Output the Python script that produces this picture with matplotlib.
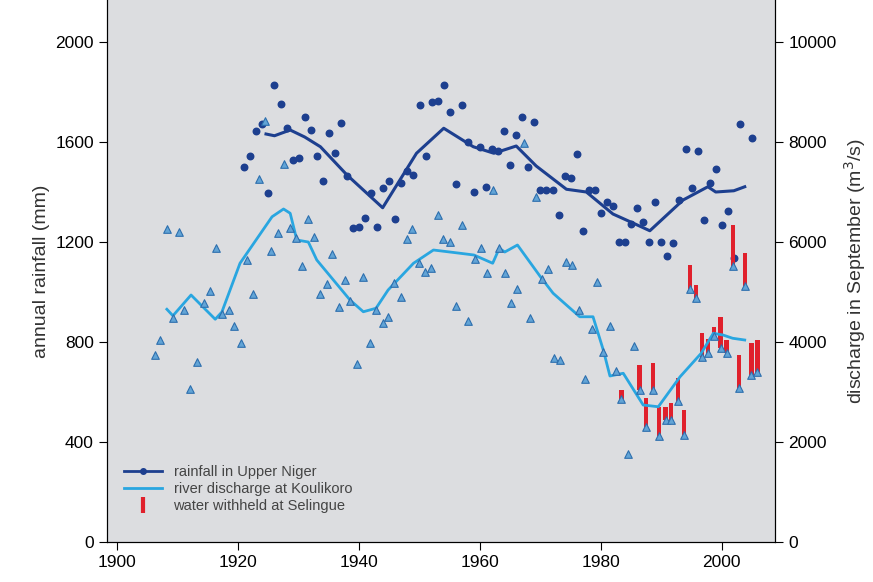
import matplotlib
matplotlib.use("Agg")
import matplotlib.pyplot as plt
from matplotlib.lines import Line2D

plt.rcParams['font.family'] = ['Liberation Sans', 'DejaVu Sans']

# rainfall dots (mm)
rain_years = [1921,1922,1923,1924,1925,1926,1927,1928,1929,1930,1931,1932,1933,1934,1935,1936,1937,1938,1939,1940,
              1941,1942,1943,1944,1945,1946,1947,1948,1949,1950,1951,1952,1953,1954,1955,1956,1957,1958,1959,1960,
              1961,1962,1963,1964,1965,1966,1967,1968,1969,1970,1971,1972,1973,1974,1975,1976,1977,1978,1979,1980,
              1981,1982,1983,1984,1985,1986,1987,1988,1989,1990,1991,1992,1993,1994,1995,1996,1997,1998,1999,2000,
              2001,2002,2003,2005]
rain_vals = [1501,1544,1644,1672,1397,1828,1753,1656,1528,1536,1701,1648,1544,1444,1637,1556,1676,1465,1256,1261,
             1297,1395,1261,1417,1444,1291,1437,1484,1469,1748,1544,1760,1763,1828,1719,1431,1748,1599,1399,1581,
             1420,1571,1565,1644,1507,1627,1701,1501,1679,1409,1409,1409,1309,1465,1456,1553,1245,1409,1409,1315,
             1359,1345,1199,1199,1272,1337,1280,1199,1360,1199,1145,1195,1368,1573,1416,1564,1287,1437,1491,1268,
             1324,1135,1672,1617]
# rainfall running mean
rain_mean_years = [1924.6,1926,1928.6,1931,1933.6,1938,1943.9,1949.5,1954,1958.9,1962.3,1966,1969.3,1974.3,
                   1977.6,1982,1985.4,1988.1,1993.6,1997.7,1999,2002,2003.8]
rain_mean_vals = [1632,1625,1648,1620,1581,1468,1337,1555,1655,1581,1555,1584,1504,1411,1400,1312,1275,1245,
                  1368,1421,1400,1405,1421]

# September discharge (m3/s)
dis_years = [1906.2,1907.1,1908.2,1909.2,1910.2,1911.1,1912.1,1913.2,1914.3,1915.4,1916.3,1917.3,1918.4,1919.3,
             1920.4,1921.4,1922.4,1923.5,1924.5,1925.5,1926.6,1927.5,1928.6,1929.6,1930.5,1931.6,1932.6,1933.6,
             1934.7,1935.6,1936.6,1937.7,1938.5,1939.7,1940.7,1941.8,1942.8,1943.9,1944.8,1945.8,1946.9,1947.9,
             1948.8,1949.9,1950.9,1951.9,1953.0,1953.9,1955.0,1956.0,1957.0,1958.1,1959.1,1960.1,1961.1,1962.1,
             1963.2,1964.1,1965.2,1966.2,1967.3,1968.2,1969.3,1970.3,1971.3,1972.3,1973.3,1974.3,1975.3,1976.4,
             1977.4,1978.5,1979.4,1980.4,1981.5,1982.5,1983.4,1984.5,1985.5,1986.4,1987.5,1988.6,1989.6,1990.7,
             1991.6,1992.7,1993.8,1994.7,1995.7,1996.7,1997.7,1998.7,1999.8,2000.8,2001.9,2002.9,2003.9,2004.9,
             2005.9]
dis_vals = [3740,4040,6260,4485,6205,4640,3060,3600,4775,5025,5885,4555,4640,4325,
            3975,5640,4955,7260,8425,5820,6175,7560,6285,6075,5520,6465,6105,4965,
            5155,5755,4705,5240,4825,3560,5295,3975,4640,4385,4505,5185,4905,6060,
            6255,5575,5395,5475,6535,6060,6005,4725,6340,4420,5655,5875,5375,7040,
            5885,5375,4775,5055,7975,4475,6905,5255,5460,3675,3640,5605,5540,4640,
            3255,4255,5205,3805,4325,3420,2860,1755,3920,3040,2305,3040,2125,2440,
            2440,2825,2140,5055,4885,3705,3785,4120,3875,3785,5520,3075,5125,3340,
            3405]
dis_mean_years = [1908.2,1909.2,1912.2,1916.2,1917.3,1920.3,1925.6,1927.5,1928.6,1929.7,1931.6,1933,1938.5,
                  1940.7,1942.8,1944.8,1949,1952.3,1956.7,1959,1962.1,1963.2,1964.1,1966.2,1970,1972.1,1976.5,
                  1978.7,1980.4,1981.5,1983.7,1987,1989.5,1993.1,1996.6,1998.6,2000.2,2001.8,2003.8]
dis_mean_vals = [4655,4525,4940,4455,4600,5575,6505,6660,6575,6040,6000,5640,4840,4605,4675,5040,5575,5840,
                 5775,5740,5575,5875,5800,5940,5305,4975,4505,4505,3840,3320,3375,2740,2705,3305,3775,4175,
                 4140,4075,4040]

# water withheld at Selingue (m3/s)
wh_years = [1983.4,1986.4,1987.5,1988.6,1989.6,1990.7,1991.6,1992.7,1993.8,1994.7,1995.7,1996.7,1997.7,1998.7,
            1999.8,2000.8,2001.9,2002.9,2003.9,2004.9,2005.9]
wh_vals = [180,500,570,545,580,265,335,450,500,485,255,480,270,185,630,255,820,665,650,635,635]
wh_base = [2860,3040,2305,3040,2125,2440,2440,2825,2140,5055,4885,3705,3785,4120,3875,3785,5520,3075,5125,3340,3405]

NAVY = '#1d3f8f'
LBLUE = '#29a6e0'
RED = '#e0202c'

fig = plt.figure(figsize=(8.73, 5.82), dpi=100)
ax = fig.add_axes([0.1226, 0.0687, 0.7651, 0.9313])
ax.set_facecolor('#dcdde0')
ax2 = ax.twinx()

ax.set_xlim(1898.3, 2008.8)
ax.set_ylim(0, 2168)
ax2.set_ylim(0, 2168 * 5)

ax.plot(rain_mean_years, rain_mean_vals, color=NAVY, lw=2.2, zorder=3)
ax.scatter(rain_years, rain_vals, s=22, color=NAVY, zorder=4)

ax2.bar(wh_years, wh_vals, bottom=wh_base, width=0.7, color=RED, zorder=2)
ax2.plot(dis_mean_years, dis_mean_vals, color=LBLUE, lw=2.0, zorder=3)
ax2.scatter(dis_years, dis_vals, marker='^', s=30, facecolor='#62a4d6', edgecolor='#2d6fae', lw=0.8, zorder=4)

ax.set_xticks([1900,1920,1940,1960,1980,2000])
ax.set_yticks([0,400,800,1200,1600,2000])
ax2.set_yticks([0,2000,4000,6000,8000,10000])
for a in (ax, ax2):
    a.tick_params(direction='out', length=6, labelsize=12.5, color='black')
    a.spines['top'].set_visible(False)
ax.grid(False)

ax.set_ylabel('annual rainfall (mm)', fontsize=14, color='#333333')
ax2.set_ylabel('discharge in September (m$^3$/s)', fontsize=14, color='#333333')

handles = [Line2D([], [], color=NAVY, lw=2, marker='o', ms=4),
           Line2D([], [], color=LBLUE, lw=2),
           Line2D([], [], color=RED, lw=0, marker='|', ms=11, mew=3)]
ax.legend(handles, ['rainfall in Upper Niger', 'river discharge at Koulikoro', 'water withheld at Selingue'],
          loc='lower left', bbox_to_anchor=(0.01, 0.035), frameon=False, fontsize=10.5,
          labelcolor='#444444', handlelength=2.6, borderaxespad=0.3, labelspacing=0.2)

fig.savefig('out.png', dpi=100)
